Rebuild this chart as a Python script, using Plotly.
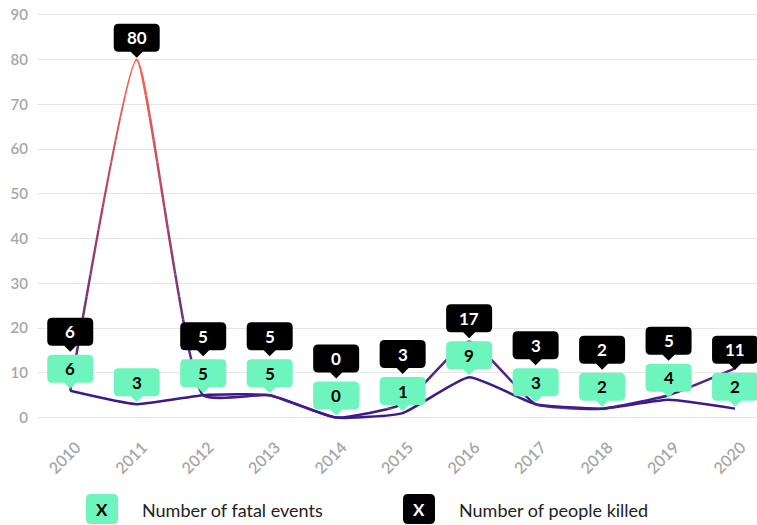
import plotly.graph_objects as go

# ---- data -------------------------------------------------------------
years = ["2010", "2011", "2012", "2013", "2014", "2015",
         "2016", "2017", "2018", "2019", "2020"]
fatal_events = [6, 3, 5, 5, 0, 1, 9, 3, 2, 4, 2]
people_killed = [6, 80, 5, 5, 0, 3, 17, 3, 2, 5, 11]
y_ticks = [0, 10, 20, 30, 40, 50, 60, 70, 80, 90]

legend_labels = ["Number of fatal events", "Number of people killed"]

# ---- layout constants -------------------------------------------------
W, H = 757, 525
ML, MR, MT, MB = 37, 0, 6, 94
Y_RANGE = [-3, 92]
X_RANGE = [-0.5, 10.33]
PLOT_H = H - MT - MB
PX_PER_UNIT = PLOT_H / (Y_RANGE[1] - Y_RANGE[0])

FONT = "Lato"
GREEN = "#6ef5be"
INDIGO = "#3a1a8c"
CORAL = "#ff6650"
GRID = "#e6e6e6"
TICK = "#a6a6a6"
TEXT = "#222222"
SMOOTH = 0.45
LINE_W = 2.5
BOX_H = 28


def hex_rgb(c):
    c = c.lstrip("#")
    return [int(c[i:i + 2], 16) for i in (0, 2, 4)]


def mix(c1, c2, t):
    a, b = hex_rgb(c1), hex_rgb(c2)
    r = [round(a[i] + (b[i] - a[i]) * t) for i in range(3)]
    return "rgb({},{},{})".format(*r)


def callout_path(bottom, height=BOX_H, half_w=23, r=5, tip=6):
    """Rounded box (pixel units, y up) with a pointer below it."""
    top = bottom + height
    L, R = -half_w, half_w
    p = [f"M {L + r},{bottom}", f"L {-tip},{bottom}", f"L 0,{bottom - tip}",
         f"L {tip},{bottom}", f"L {R - r},{bottom}", f"Q {R},{bottom} {R},{bottom + r}",
         f"L {R},{top - r}", f"Q {R},{top} {R - r},{top}",
         f"L {L + r},{top}", f"Q {L},{top} {L},{top - r}",
         f"L {L},{bottom + r}", f"Q {L},{bottom} {L + r},{bottom}", "Z"]
    return " ".join(p)


def rect_path(x0, x1, y0, y1, r=5):
    return (f"M {x0 + r},{y0} L {x1 - r},{y0} Q {x1},{y0} {x1},{y0 + r} "
            f"L {x1},{y1 - r} Q {x1},{y1} {x1 - r},{y1} L {x0 + r},{y1} "
            f"Q {x0},{y1} {x0},{y1 - r} L {x0},{y0 + r} Q {x0},{y0} {x0 + r},{y0} Z")


fig = go.Figure()
layout_axes = {}

# fatal events line
fig.add_trace(go.Scatter(
    x=years, y=fatal_events, mode="lines",
    line=dict(color=INDIGO, width=LINE_W, shape="spline", smoothing=SMOOTH),
    hoverinfo="skip", showlegend=False,
))

# people killed line, drawn in horizontal bands to get a vertical colour gradient
N_BANDS = 19
span = Y_RANGE[1] - Y_RANGE[0]
for k in range(N_BANDS):
    lo = Y_RANGE[0] + span * k / N_BANDS
    hi = Y_RANGE[0] + span * (k + 1) / N_BANDS
    t = min(max(((lo + hi) / 2) / 80, 0), 1)
    ax_name = f"yaxis{k + 2}"
    layout_axes[ax_name] = dict(domain=[k / N_BANDS, (k + 1) / N_BANDS],
                                range=[lo, hi], visible=False, anchor="x",
                                showgrid=False, zeroline=False, fixedrange=True)
    fig.add_trace(go.Scatter(
        x=years, y=people_killed, mode="lines", xaxis="x", yaxis=f"y{k + 2}",
        line=dict(color=mix(INDIGO, CORAL, t), width=LINE_W, shape="spline",
                  smoothing=SMOOTH),
        hoverinfo="skip", showlegend=False,
    ))

shapes = []
annotations = []

GREEN_BASE = 8                               # box bottom above the point
BLACK_STACKED = GREEN_BASE + BOX_H + 3 + 6   # black tip 3px above green box
STACK_GAP = BLACK_STACKED - 2
for i, (fe, pk) in enumerate(zip(fatal_events, people_killed)):
    # green callout just above the fatal-events point
    shapes.append(dict(type="path", xref="x", yref="y", xsizemode="pixel",
                       ysizemode="pixel", xanchor=i, yanchor=fe,
                       path=callout_path(GREEN_BASE), fillcolor=GREEN, line_width=0,
                       layer="above"))
    annotations.append(dict(x=i, y=fe, xref="x", yref="y", text=f"<b>{fe}</b>",
                            showarrow=False, yshift=GREEN_BASE + BOX_H / 2,
                            yanchor="middle",
                            font=dict(family=FONT, size=17, color="#000000")))
    # black callout above the people-killed point, or stacked on the green one
    if (pk - fe) * PX_PER_UNIT < STACK_GAP:
        anchor, base = fe, BLACK_STACKED
    else:
        anchor, base = pk, 8
    shapes.append(dict(type="path", xref="x", yref="y", xsizemode="pixel",
                       ysizemode="pixel", xanchor=i, yanchor=anchor,
                       path=callout_path(base), fillcolor="#000000", line_width=0,
                       layer="above"))
    annotations.append(dict(x=i, y=anchor, xref="x", yref="y", text=f"<b>{pk}</b>",
                            showarrow=False, yshift=base + BOX_H / 2,
                            yanchor="middle",
                            font=dict(family=FONT, size=17, color="#ffffff")))

# custom legend below the axis
legend_items = [(GREEN, "#000000", 49, legend_labels[0]),
                ("#000000", "#ffffff", 366, legend_labels[1])]
for fill, mark_col, x0, label in legend_items:
    shapes.append(dict(type="path", xref="paper", yref="paper", xsizemode="pixel",
                       ysizemode="pixel", xanchor=0, yanchor=0,
                       path=rect_path(x0, x0 + 32, -93, -63), fillcolor=fill,
                       line_width=0))
    annotations.append(dict(x=0, y=0, xref="paper", yref="paper", text="<b>X</b>",
                            showarrow=False, xanchor="center", yanchor="middle",
                            xshift=x0 + 16, yshift=-78,
                            font=dict(family=FONT, size=17, color=mark_col)))
    annotations.append(dict(x=0, y=0, xref="paper", yref="paper", text=label,
                            showarrow=False, xanchor="left", yanchor="middle",
                            xshift=x0 + 54, yshift=-79,
                            font=dict(family=FONT, size=18, color=TEXT)))

fig.update_layout(
    width=W, height=H,
    margin=dict(l=ML, r=MR, t=MT, b=MB, pad=0),
    paper_bgcolor="#ffffff", plot_bgcolor="rgba(0,0,0,0)",
    showlegend=False,
    font=dict(family=FONT),
    xaxis=dict(type="category", range=X_RANGE, showgrid=False, zeroline=False,
               showline=False, ticks="", tickangle=-45,
               ticklabelshift=6, ticklabelstandoff=3,
               tickfont=dict(family=FONT, size=16, color=TICK, weight=600),
               fixedrange=True),
    yaxis=dict(range=Y_RANGE, tickvals=y_ticks, showgrid=True, gridcolor=GRID,
               gridwidth=1, zeroline=False, showline=False, ticks="",
               ticklabelstandoff=8,
               tickfont=dict(family=FONT, size=15, color=TICK, weight=600),
               fixedrange=True),
    shapes=shapes,
    annotations=annotations,
    **layout_axes,
)

fig.write_html("out.html")
